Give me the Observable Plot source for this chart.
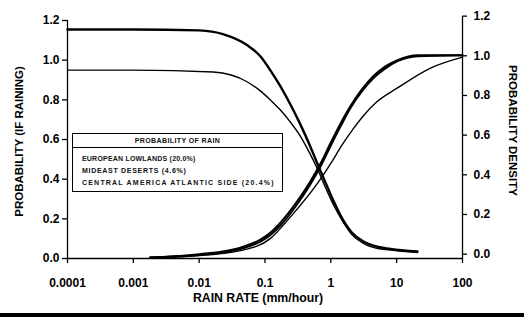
<!DOCTYPE html>
<html>
<head>
<meta charset="utf-8">
<script src="https://cdn.jsdelivr.net/npm/d3@7"></script>
<script src="https://cdn.jsdelivr.net/npm/@observablehq/plot@0.6"></script>
<style>
  html, body { margin: 0; padding: 0; background: #fff; }
  #wrap { position: relative; width: 524px; height: 317px; overflow: hidden; }
  #legend {
    position: absolute; left: 72px; top: 133px; width: 211px; height: 59px;
    border: 1px solid #000; background: #fff; box-sizing: border-box;
    font-family: "Liberation Sans", Arial, sans-serif; font-weight: bold; font-size: 7px;
    color: #111;
  }
  #legend .hd { text-align: center; height: 13px; line-height: 14px; border-bottom: 1px solid #000; letter-spacing: 0.4px; }
  #legend .body { padding-top: 5px; }
  #legend .row { padding-left: 9px; height: 12px; line-height: 12px; white-space: nowrap; }
  #legend .r0 { letter-spacing: 0.2px; }
  #legend .r1 { letter-spacing: 0.7px; }
  #legend .r2 { letter-spacing: 1.2px; }
  #bar { position: absolute; left: 0; top: 313px; width: 524px; height: 4px; background: #000; }
</style>
</head>
<body>
<div id="wrap"></div>
<script>
// ---- data ----
const xTicks = [0.0001, 0.001, 0.01, 0.1, 1, 10, 100];
const xTickLabels = ["0.0001", "0.001", "0.01", "0.1", "1", "10", "100"];
const yTicks = [0, 0.2, 0.4, 0.6, 0.8, 1.0, 1.2];
const legendTitle = "PROBABILITY OF RAIN";
const legendRows = ["EUROPEAN LOWLANDS (20.0%)", "MIDEAST DESERTS (4.6%)", "CENTRAL AMERICA ATLANTIC SIDE (20.4%)"];

// exceedance-type curves (left axis)
const upperDecRate = [0.0001, 0.001, 0.01, 0.0236, 0.054, 0.085, 0.12, 0.17, 0.24, 0.34, 0.48, 0.63, 0.85, 1.1, 1.5, 2.1, 3.0, 4.0, 8.1, 20.7];
const upperDec     = [1.155, 1.155, 1.15, 1.13, 1.075, 1.02, 0.95, 0.87, 0.78, 0.68, 0.57, 0.475, 0.375, 0.29, 0.20, 0.13, 0.09, 0.07, 0.048, 0.035];
const lowerDecRate = [0.0001, 0.001, 0.0165, 0.054, 0.085, 0.12, 0.17, 0.24, 0.34, 0.48, 0.63, 0.85, 1.1, 1.5, 2.1, 3.0, 4.0, 8.1, 20.7];
const lowerDec     = [0.95, 0.95, 0.94, 0.89, 0.845, 0.80, 0.75, 0.69, 0.62, 0.53, 0.45, 0.35, 0.27, 0.19, 0.12, 0.08, 0.06, 0.042, 0.03];

// cumulative curves (right axis)
const incRateA = [0.0018, 0.01, 0.0425, 0.085, 0.12, 0.17, 0.31, 0.49, 0.70, 1.0, 1.4, 2.0, 3.0, 4.45, 6.5, 10.3, 20.7, 100];
const incA     = [0.005, 0.022, 0.055, 0.095, 0.13, 0.18, 0.29, 0.39, 0.48, 0.585, 0.68, 0.77, 0.855, 0.92, 0.965, 1.0, 1.025, 1.025];
const incB     = [0.005, 0.018, 0.048, 0.085, 0.118, 0.165, 0.275, 0.375, 0.465, 0.57, 0.665, 0.76, 0.845, 0.91, 0.955, 0.995, 1.02, 1.025];
const incRateC = [0.0018, 0.01, 0.0425, 0.12, 0.244, 0.63, 1.0, 1.5, 2.2, 3.13, 5.0, 10.3, 32.7, 100];
const incC     = [0.005, 0.015, 0.04, 0.10, 0.21, 0.38, 0.48, 0.575, 0.655, 0.72, 0.79, 0.86, 0.96, 1.015];

const rightAxisShift = 0.022; // right-hand scale printed slightly higher than the left one

const toRows = (xs, ys) => xs.map((x, i) => ({x, y: ys[i]}));
const font = "'Liberation Sans', Arial, sans-serif";

const lineOpts = (w) => ({x: "x", y: "y", stroke: "#000", strokeWidth: w, curve: "monotone-x"});

const chart = Plot.plot({
  width: 524,
  height: 317,
  marginLeft: 67,
  marginRight: 62,
  marginTop: 20,
  marginBottom: 59,
  style: {fontFamily: font, fontWeight: "bold", fontSize: "12px", color: "#000", background: "#fff"},
  x: {type: "log", domain: [0.0001, 100]},
  y: {domain: [0, 1.2]},
  marks: [
    Plot.ruleX([0.0001], {y1: 0, y2: 1.2, stroke: "#000", strokeWidth: 1.3}),
    Plot.ruleX([100], {y1: 0, y2: 1.2 + rightAxisShift, stroke: "#000", strokeWidth: 1.3}),
    Plot.ruleY([0], {x1: 0.0001, x2: 100, stroke: "#000", strokeWidth: 1.3}),
    Plot.axisX({ticks: xTicks, tickSize: 5, tickPadding: 15, tickFormat: (d) => xTickLabels[xTicks.indexOf(d)], label: null, strokeWidth: 1.3}),
    Plot.axisY({ticks: yTicks, anchor: "left", tickSize: 5, tickPadding: 3, tickFormat: (d) => d.toFixed(1), label: null, strokeWidth: 1.3}),
    Plot.axisY(yTicks.map((v) => v + rightAxisShift), {anchor: "right", tickSize: 4, tickPadding: 7, tickFormat: (d) => (d - rightAxisShift).toFixed(1), label: null, strokeWidth: 1.3}),
    Plot.line(toRows(upperDecRate, upperDec), lineOpts(2.4)),
    Plot.line(toRows(lowerDecRate, lowerDec), lineOpts(1.4)),
    Plot.line(toRows(incRateA, incA), lineOpts(2.0)),
    Plot.line(toRows(incRateA, incB), lineOpts(2.0)),
    Plot.line(toRows(incRateC, incC), lineOpts(1.4)),
    Plot.text(["PROBABILITY (IF RAINING)"], {frameAnchor: "left", textAnchor: "middle", dx: -48, dy: 2, rotate: -90, fontSize: 11.5, fontWeight: "bold"}),
    Plot.text(["PROBABILITY DENSITY"], {frameAnchor: "right", textAnchor: "middle", dx: 50, dy: -9, rotate: 90, fontSize: 11.5, fontWeight: "bold"}),
    Plot.text(["RAIN RATE (mm/hour)"], {frameAnchor: "bottom", dx: -7, dy: 43, fontSize: 12.3, fontWeight: "bold"})
  ]
});

const wrap = document.getElementById("wrap");
wrap.appendChild(chart);
const legend = document.createElement("div");
legend.id = "legend";
legend.innerHTML = `<div class="hd">${legendTitle}</div><div class="body">` +
  legendRows.map((r, i) => `<div class="row r${i}">${r}</div>`).join("") + `</div>`;
wrap.appendChild(legend);
const bar = document.createElement("div");
bar.id = "bar";
wrap.appendChild(bar);
</script>
</body>
</html>
